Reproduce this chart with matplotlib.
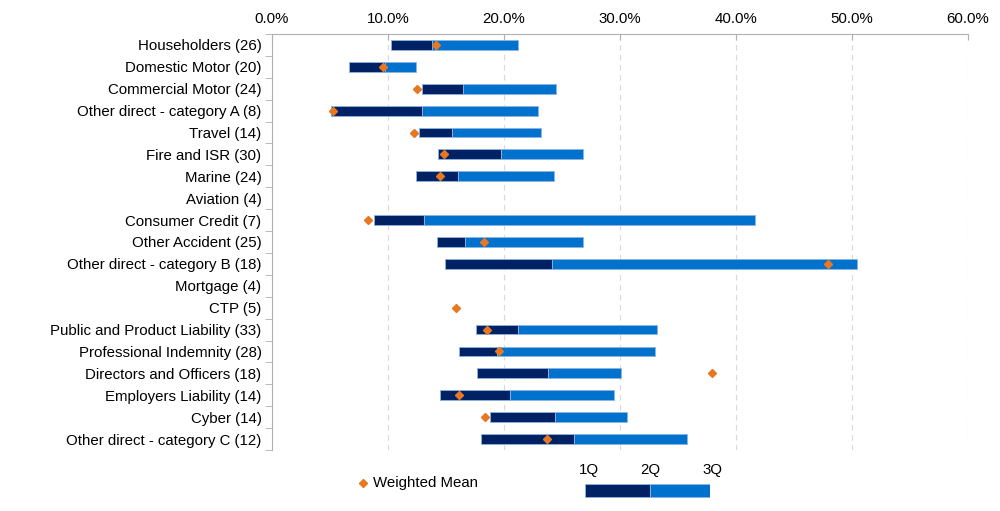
import matplotlib.pyplot as plt
import matplotlib.ticker as mticker
import numpy as np

plt.rcParams['font.family'] = ['Liberation Sans', 'DejaVu Sans']

# data (percent)
categories = ['Householders (26)', 'Domestic Motor (20)', 'Commercial Motor (24)',
              'Other direct - category A (8)', 'Travel (14)', 'Fire and ISR (30)',
              'Marine (24)', 'Aviation (4)', 'Consumer Credit (7)', 'Other Accident (25)',
              'Other direct - category B (18)', 'Mortgage (4)', 'CTP (5)',
              'Public and Product Liability (33)', 'Professional Indemnity (28)',
              'Directors and Officers (18)', 'Employers Liability (14)', 'Cyber (14)',
              'Other direct - category C (12)']
q1 = [10.3, 6.6, 12.9, 5.1, 12.7, 14.3, 12.4, np.nan, 8.8, 14.2,
      14.9, np.nan, np.nan, 17.6, 16.1, 17.7, 14.5, 18.8, 18.0]
q2 = [13.8, 9.7, 16.5, 12.9, 15.5, 19.7, 16.0, np.nan, 13.1, 16.6,
      24.1, np.nan, np.nan, 21.2, 19.4, 23.8, 20.5, 24.4, 26.0]
q3 = [21.2, 12.4, 24.5, 22.9, 23.2, 26.8, 24.3, np.nan, 41.6, 26.8,
      50.4, np.nan, np.nan, 33.2, 33.0, 30.1, 29.5, 30.6, 35.8]
wmean = [14.1, 9.6, 12.5, 5.3, 12.2, 14.8, 14.5, np.nan, 8.3, 18.3,
         47.9, np.nan, 15.9, 18.5, 19.6, 37.9, 16.1, 18.4, 23.7]

dark = '#002163'
light = '#0072CE'
orange = '#E87722'
fs = 10.8

q1 = np.array(q1)
q2 = np.array(q2)
q3 = np.array(q3)
y = np.arange(len(categories))

fig = plt.figure(figsize=(10, 5.11), dpi=100)
ax = fig.add_axes([0.272, 0.1194, 0.696, 0.8141])

ax.barh(y, q2 - q1, left=q1, height=0.45, color=dark, edgecolor='#8FB4E0', linewidth=0.6, zorder=2)
ax.barh(y, q3 - q2, left=q2, height=0.45, color=light, edgecolor='#8FB4E0', linewidth=0.6, zorder=2)
ax.plot(wmean, y, linestyle='none', marker='D', markersize=4.5, color=orange, zorder=3)

ax.set_xlim(0, 60)
ax.set_ylim(len(categories) - 0.5, -0.5)
ax.xaxis.set_major_locator(mticker.MultipleLocator(10))
ax.xaxis.set_major_formatter(mticker.FuncFormatter(lambda v, p: '%.1f%%' % v))
ax.xaxis.tick_top()
ax.tick_params(axis='x', length=4, color='#B0B0B0', labelsize=fs, pad=5.5, direction='in')
ax.set_yticks(y)
ax.set_yticklabels(categories)
ax.set_yticks(np.arange(len(categories) + 1) - 0.5, minor=True)
ax.tick_params(axis='y', which='major', length=0, labelsize=fs, pad=7.5)
ax.tick_params(axis='y', which='minor', length=5, color='#B0B0B0')
ax.grid(axis='x', linestyle=(0, (5, 4)), color='#D9D9D9', linewidth=0.8, zorder=0)
for s in ['right', 'bottom']:
    ax.spines[s].set_visible(False)
ax.spines['top'].set_color('#B0B0B0')
ax.spines['left'].set_color('#B0B0B0')

# legend: weighted mean
lax = fig.add_axes([0.355, 0.02, 0.15, 0.07])
lax.plot([0.05], [0.5], linestyle='none', marker='D', markersize=4.5, color=orange)
lax.text(0.12, 0.5, 'Weighted Mean', va='center', ha='left', fontsize=fs)
lax.set_xlim(0, 1)
lax.set_ylim(0, 1)
lax.axis('off')

# legend: quartile bar (units: pixels inside the small axes)
bax = fig.add_axes([0.585, 1 - 500 / 511, 0.125, 40 / 511])
bax.barh([9.5], [65], left=[0], height=13, color=dark, edgecolor='#8FB4E0', linewidth=0.6)
bax.barh([9.5], [60], left=[65], height=13, color=light, edgecolor='#8FB4E0', linewidth=0.6)
for xv, lab in zip([4, 65, 127], ['1Q', '2Q', '3Q']):
    bax.text(xv, 30, lab, ha='center', va='center', fontsize=fs)
bax.set_xlim(0, 125)
bax.set_ylim(0, 40)
bax.axis('off')

plt.savefig('out.png', dpi=100)
